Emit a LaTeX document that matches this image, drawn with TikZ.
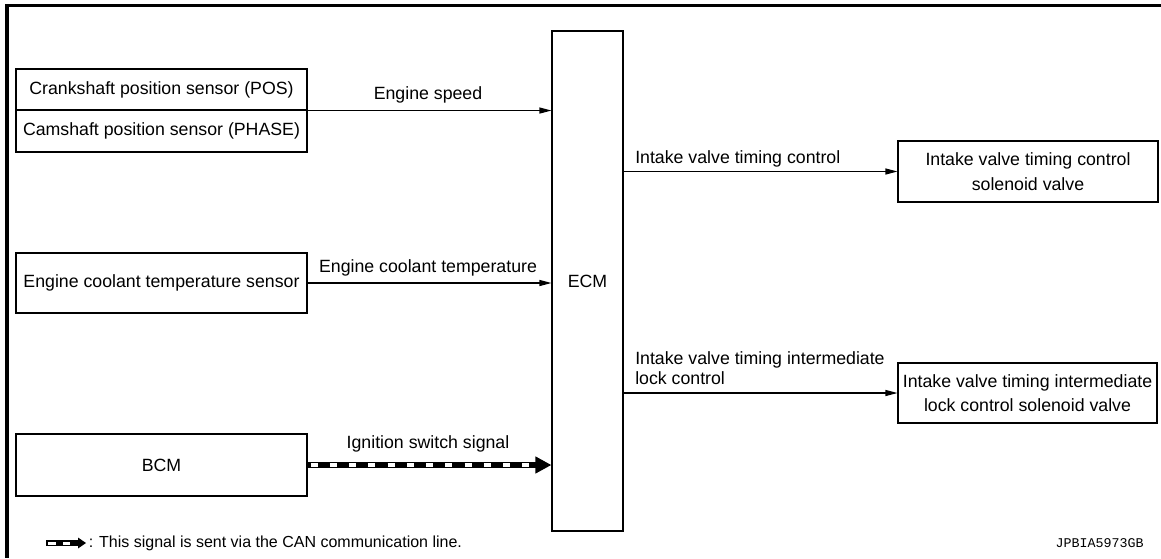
\documentclass[tikz,border=0pt]{standalone}
\usepackage{fontspec}
\setmainfont{Liberation Sans}
\newfontfamily\monofont{Liberation Mono}
\usetikzlibrary{arrows.meta}
\begin{document}
\begin{tikzpicture}[x=0.75pt,y=-0.75pt,
  every node/.style={font=\fontsize{13.3pt}{15pt}\selectfont, inner sep=0pt},
  box/.style={draw, line width=0.8pt, align=center},
  bigbox/.style={box, font=\fontsize{13.3pt}{18.5pt}\selectfont},
  sig/.style={-{Triangle[length=9pt,width=4.5pt]}, line width=0.8pt},
  canbar/.style={line width=4.5pt, -{Triangle[length=12pt,width=12pt]}},
  candash/.style={white, line width=2.4pt, dash pattern=on 5.25pt off 9.2pt},
  lbl/.style={align=left, anchor=west}]
\useasboundingbox (0,0) rectangle (1161,558);
% frame
\draw[line width=2.6pt] (1161,5.5) -- (7,5.5) -- (7,558);
% left boxes
\node[box, minimum width=291*0.75pt, minimum height=41*0.75pt] (crank) at (161.5,89.5) {Crankshaft position sensor (POS)};
\node[box, minimum width=291*0.75pt, minimum height=42*0.75pt] (cam) at (161.5,131) {Camshaft position sensor (PHASE)};
\node[box, minimum width=291*0.75pt, minimum height=60*0.75pt] (cool) at (161.5,283) {Engine coolant temperature sensor};
\node[box, minimum width=291*0.75pt, minimum height=62*0.75pt] (bcm) at (161.5,465) {BCM};
% ECM
\node[box, minimum width=71*0.75pt, minimum height=500*0.75pt] (ecm) at (587.5,281) {ECM};
% right boxes
\node[bigbox, minimum width=260*0.75pt, minimum height=61*0.75pt] (ivtc) at (1028,171.5) {Intake valve timing control\\solenoid valve};
\node[bigbox, minimum width=259*0.75pt, minimum height=60*0.75pt] (ivtil) at (1027.5,393) {Intake valve timing intermediate\\lock control solenoid valve};
% connectors
\draw[sig] (crank.south east) -- (crank.south east -| ecm.west);
\node (lspeed) at (428,95) {Engine speed};
\draw[sig] (cool.east) -- (cool.east -| ecm.west);
\node (lcool) at (428,268) {Engine coolant temperature};
\draw[canbar] (bcm.east) -- (bcm.east -| ecm.west);
\draw[candash] ([xshift=2.25pt]bcm.east) -- ([xshift=-16.9pt]bcm.east -| ecm.west);
\node (lign) at (428,444) {Ignition switch signal};
\draw[sig] (ecm.east |- ivtc.west) -- (ivtc.west);
\node[lbl] (livtc) at (635,159) {Intake valve timing control};
\draw[sig] (ecm.east |- ivtil.west) -- (ivtil.west);
\node[lbl] (livtil) at (635,368) {Intake valve timing intermediate\\lock control};
% legend
\fill (46,540) rectangle (78,546);
\fill[white] (47.5,541.5) rectangle (56,544.5);
\fill[white] (63,541.5) rectangle (70,544.5);
\fill (78,537.5) -- (86,543) -- (78,548.5) -- cycle;
\node[anchor=west, font=\fontsize{12pt}{14pt}\selectfont] (legtext) at (88.5,543) {: This signal is sent via the CAN communication line.};
\node[anchor=east, font=\monofont\fontsize{10pt}{12pt}\selectfont] (code) at (1144,543) {JPBIA5973GB};
\end{tikzpicture}
\end{document}
